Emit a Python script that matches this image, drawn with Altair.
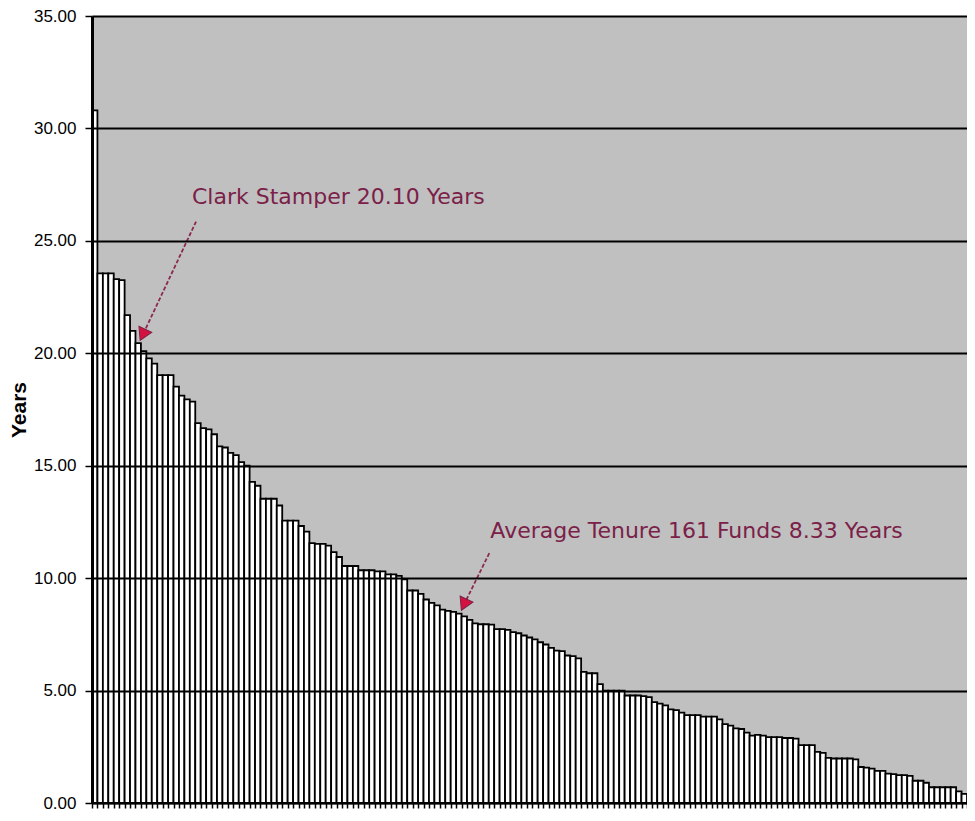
import altair as alt
import pandas as pd

# Tenure (years) of 161 funds, sorted in descending order
tenure_years = [
    30.8, 23.55, 23.55, 23.55, 23.3, 23.25, 21.7, 21.0, 20.45, 20.1,
    19.77, 19.54, 19.03, 19.03, 19.03, 18.52, 18.12, 17.95, 17.85, 16.89,
    16.67, 16.62, 16.4, 15.86, 15.81, 15.57, 15.47, 15.16, 15.0, 14.28,
    14.11, 13.53, 13.53, 13.53, 13.23, 12.56, 12.56, 12.56, 12.32, 12.07,
    11.56, 11.52, 11.52, 11.45, 11.16, 10.94, 10.54, 10.54, 10.54, 10.35,
    10.35, 10.35, 10.3, 10.3, 10.17, 10.17, 10.1, 9.95, 9.45, 9.45,
    9.3, 9.05, 8.9, 8.79, 8.6, 8.54, 8.5, 8.42, 8.3, 8.14,
    7.99, 7.95, 7.95, 7.93, 7.73, 7.73, 7.7, 7.6, 7.55, 7.45,
    7.36, 7.28, 7.15, 7.05, 6.9, 6.78,
    6.75, 6.56, 6.53, 6.43, 5.83, 5.77, 5.77, 5.29, 5.0, 5.0, 5.0, 5.0,
    4.78, 4.78, 4.78, 4.75, 4.71, 4.49, 4.42, 4.34, 4.16, 4.13, 4.02,
    3.91, 3.91, 3.91, 3.84, 3.84, 3.84, 3.72, 3.51, 3.44, 3.32, 3.29, 3.13,
    3.0, 3.03, 3.0, 2.93, 2.93, 2.93, 2.89, 2.89, 2.86, 2.57, 2.57, 2.57,
    2.27, 2.23, 2.01, 1.98, 1.98, 1.98, 1.98, 1.94, 1.6, 1.57, 1.53, 1.43, 1.43,
    1.31, 1.28, 1.24, 1.24, 1.21, 0.99, 0.99, 0.9, 0.7, 0.7, 0.7, 0.7, 0.7, 0.52, 0.41,
]
fund_start = list(range(len(tenure_years)))
fund_end = [i + 1 for i in fund_start]

y_ticks = [0, 5, 10, 15, 20, 25, 30, 35]
x_ticks = list(range(0, len(tenure_years) + 1))

# Annotations (in data units: fund position, years)
note_text = ["Clark Stamper 20.10 Years", "Average Tenure 161 Funds 8.33 Years"]
note_x = [18.4, 73.3]
note_y = [26.95, 12.08]
arrow_x = [19.15, 73.1]
arrow_y = [25.86, 11.11]
arrow_x2 = [9.5, 68.6]
arrow_y2 = [20.9, 8.9]

bars_df = pd.DataFrame({"start": fund_start, "end": fund_end, "years": tenure_years})
notes_df = pd.DataFrame({"text": note_text, "x": note_x, "y": note_y})
arrows_df = pd.DataFrame({"x": arrow_x, "y": arrow_y, "x2": arrow_x2, "y2": arrow_y2})

N = len(tenure_years)
x_scale = alt.Scale(domain=[0, N], nice=False, zero=False)
y_scale = alt.Scale(domain=[0, 35], nice=False)

bars = alt.Chart(bars_df).mark_bar(
    fill="white", stroke="black", strokeWidth=1.8
).encode(
    x=alt.X("start:Q", scale=x_scale,
            axis=alt.Axis(values=x_ticks, tickCount=len(x_ticks) + 10,
                          labels=False, title=None, grid=False,
                          tickSize=5, tickColor="black", domainColor="black",
                          domainWidth=1.5, tickWidth=1.5)),
    x2="end:Q",
    y=alt.Y("years:Q", scale=y_scale,
            axis=alt.Axis(values=y_ticks, format=".2f", title="Years",
                          grid=True, gridColor="black", gridWidth=2,
                          domainColor="black", domainWidth=3,
                          tickColor="black", tickSize=7, tickWidth=1.5,
                          labelFont="Liberation Sans", labelFontSize=17,
                          labelColor="black", labelPadding=9,
                          titleFont="Liberation Sans", titleFontSize=21,
                          titleFontWeight="bold", titleColor="black",
                          titlePadding=4, zindex=1)),
    y2=alt.datum(0),
)

arrow_lines = alt.Chart(arrows_df).mark_rule(
    color="#8a2a50", strokeWidth=1.8, strokeDash=[4, 2]
).encode(
    x=alt.X("x:Q", scale=x_scale),
    y=alt.Y("y:Q", scale=y_scale),
    x2="x2:Q",
    y2="y2:Q",
)

arrow_heads = alt.Chart(arrows_df).mark_point(
    shape="triangle", filled=True, color="#d3123f", size=200, angle=205,
    opacity=1, stroke="#7b2048", strokeWidth=1
).encode(
    x=alt.X("x2:Q", scale=x_scale),
    y=alt.Y("y2:Q", scale=y_scale),
)

notes = alt.Chart(notes_df).mark_text(
    align="left", baseline="middle", font="DejaVu Sans", fontSize=22,
    color="#7b2048"
).encode(
    x=alt.X("x:Q", scale=x_scale),
    y=alt.Y("y:Q", scale=y_scale),
    text="text:N",
)

chart = alt.layer(bars, arrow_lines, arrow_heads, notes).properties(
    width=875,
    height=787,
    autosize=alt.AutoSizeParams(type="none"),
    padding={"left": 84, "top": 8, "right": 0, "bottom": 10},
    background="white",
).configure_view(
    fill="#C0C0C0", strokeWidth=0
)

chart.save("out.html", embed_options={"renderer": "svg", "actions": False})
